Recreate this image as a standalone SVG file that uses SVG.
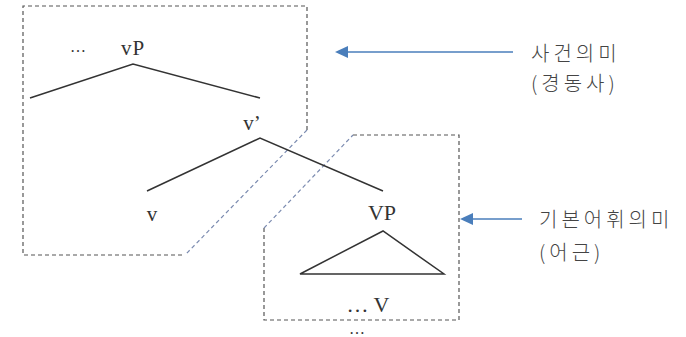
<svg xmlns="http://www.w3.org/2000/svg" width="686" height="337" viewBox="0 0 686 337">
<style>
.t{font-family:"Liberation Serif","DejaVu Serif",serif;font-size:21px;fill:#333;text-anchor:middle}
.k{font-family:"Noto Sans CJK KR","Noto Sans",sans-serif;font-size:20px;fill:#444;letter-spacing:4px;font-weight:300}
.br{stroke:#333;stroke-width:1.5;fill:none}
.box{stroke:#555;stroke-width:1.2;fill:none;stroke-dasharray:4 3}
.diag{stroke:#7b8bb0;stroke-width:1.2;fill:none;stroke-dasharray:4 3}
.arr{stroke:#4a7ebb;stroke-width:1.3;fill:none}
</style>
<defs>
<marker id="ah" markerWidth="13" markerHeight="12" refX="11" refY="6" orient="auto" markerUnits="userSpaceOnUse">
<path d="M13,6 L0,0 L0,12 Z" fill="#4a7ebb"/>
</marker>
</defs>
<rect width="686" height="337" fill="#fff"/>
<g id="box-event">
<path class="box" d="M307,130 L307,6 L23,6 L23,255 L185,255"/>
<path class="diag" d="M307,130 L185,255"/>
</g>
<g id="box-root">
<path class="box" d="M353,135 L459,135 L459,320 L264,320 L264,228"/>
<path class="diag" d="M264,228 L353,135"/>
</g>
<g id="node-vP">
<text class="t" x="78" y="52" style="font-size:16px">…</text>
<text class="t" x="133" y="55" letter-spacing="1">vP</text>
</g>
<g id="node-vbar">
<text class="t" x="252" y="130">v’</text>
</g>
<g id="node-v">
<text class="t" x="152" y="221">v</text>
</g>
<g id="node-VP">
<text class="t" x="382" y="220" style="font-size:22px">VP</text>
<path class="br" d="M383,231 L300,274 L444,274 Z"/>
<text class="t" x="368" y="312" style="font-size:22px">… V</text>
<text class="t" x="357" y="334" style="font-size:16px">…</text>
</g>
<g id="label-event">
<text class="k" x="531" y="61">사건의미</text>
<text class="k" x="531" y="91">(경동사)</text>
</g>
<g id="label-root">
<text class="k" x="539" y="227">기본어휘의미</text>
<text class="k" x="539" y="260">(어근)</text>
</g>
<g id="connectors">
<path class="br" d="M30,98 L133,64 L260,98"/>
<path class="br" d="M147,191 L260,138 L383,191"/>
<path class="arr" d="M513,52 L337,52" marker-end="url(#ah)"/>
<path class="arr" d="M522,219 L462,219" marker-end="url(#ah)"/>
</g>
</svg>
